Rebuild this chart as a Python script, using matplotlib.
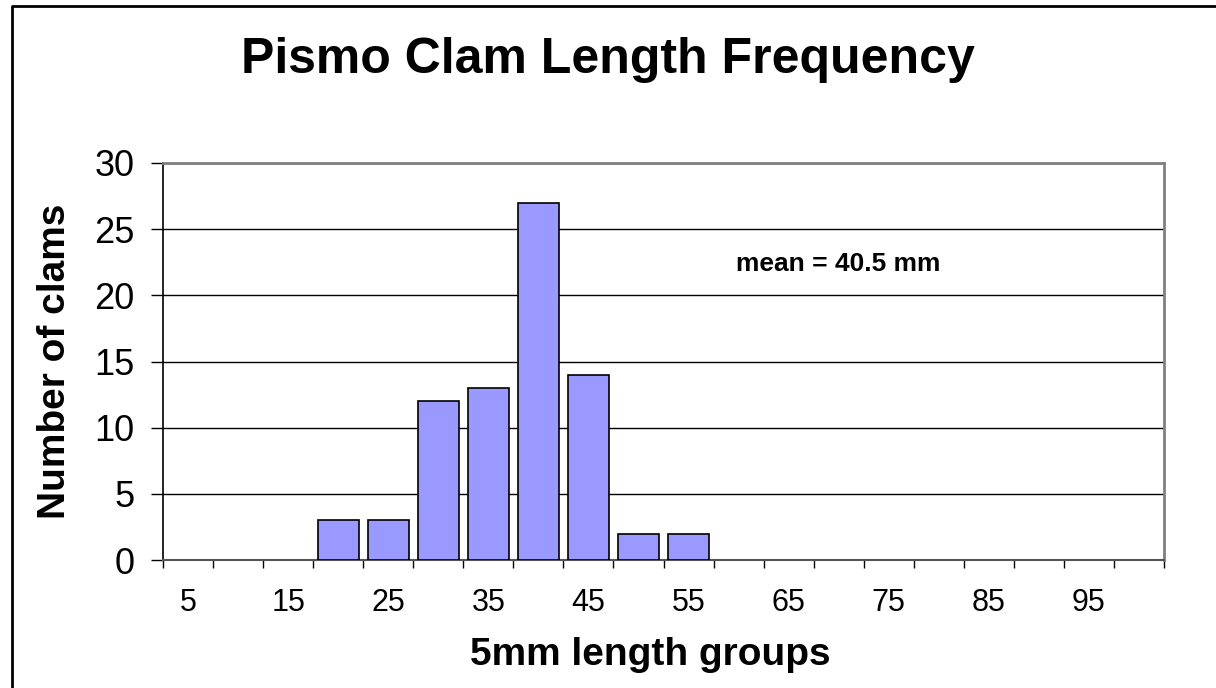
import matplotlib.pyplot as plt
import numpy as np
from matplotlib.lines import Line2D

plt.rcParams['font.family'] = ['Liberation Sans', 'DejaVu Sans']

# 5mm length groups and clam counts
groups = [5, 10, 15, 20, 25, 30, 35, 40, 45, 50, 55, 60, 65, 70, 75, 80, 85, 90, 95, 100]
counts = [0, 0, 0, 3, 3, 12, 13, 27, 14, 2, 2, 0, 0, 0, 0, 0, 0, 0, 0, 0]
tick_labels = [str(g) if i % 2 == 0 else '' for i, g in enumerate(groups)]
mean_text = 'mean = 40.5 mm'

fig = plt.figure(figsize=(12.16, 6.88), dpi=100)
ax = fig.add_axes([163 / 1216, 1 - 560 / 688, 1001 / 1216, 397 / 688])

x = np.arange(len(groups))
# empty groups get no outline, like the original
edges = ['black' if c > 0 else 'none' for c in counts]
ax.bar(x, counts, width=0.82, color='#9999FF', edgecolor=edges, linewidth=1.2, zorder=3)

ax.set_xlim(-0.5, len(groups) - 0.5)
ax.set_ylim(0, 30)
ax.set_yticks(range(0, 31, 5))
ax.yaxis.grid(True, color='black', linewidth=1)
ax.set_axisbelow(True)

# labels at category centres, tick marks at category boundaries
ax.set_xticks(x)
ax.set_xticklabels(tick_labels, fontsize=22)
ax.tick_params(axis='x', length=0, pad=20)
ax.set_xticks(np.arange(-0.5, len(groups), 1), minor=True)
ax.tick_params(axis='x', which='minor', length=6, width=1, direction='out')
ax.tick_params(axis='y', labelsize=26, length=8.6, width=1, pad=12)

for side in ['top', 'right']:
    ax.spines[side].set_color('#808080')
    ax.spines[side].set_linewidth(2)
ax.spines['left'].set_linewidth(1.2)
ax.spines['bottom'].set_color('#555555')
ax.spines['bottom'].set_linewidth(1.5)

ax.set_xlabel('5mm length groups', fontsize=28, fontweight='bold')
ax.xaxis.label.set_va('center')
ax.xaxis.set_label_coords((650 - 163) / 1001, (560 - 655) / 397)
ax.set_ylabel('Number of clams', fontsize=28, fontweight='bold')
ax.yaxis.label.set_va('center')
ax.yaxis.set_label_coords((55 - 163) / 1001, 0.5)

fig.text(608 / 1216, 1 - 60 / 688, 'Pismo Clam Length Frequency', fontsize=36,
         fontweight='bold', ha='center', va='center')
ax.text(13.0, 22.4, mean_text, fontsize=19, fontweight='bold', ha='center', va='center')

# outer chart frame (left and top edges visible)
fig.add_artist(Line2D([12 / 1216, 12 / 1216, 1], [0, 1 - 6 / 688, 1 - 6 / 688],
                      transform=fig.transFigure, color='black', linewidth=2))

fig.savefig('out.png', dpi=100)
